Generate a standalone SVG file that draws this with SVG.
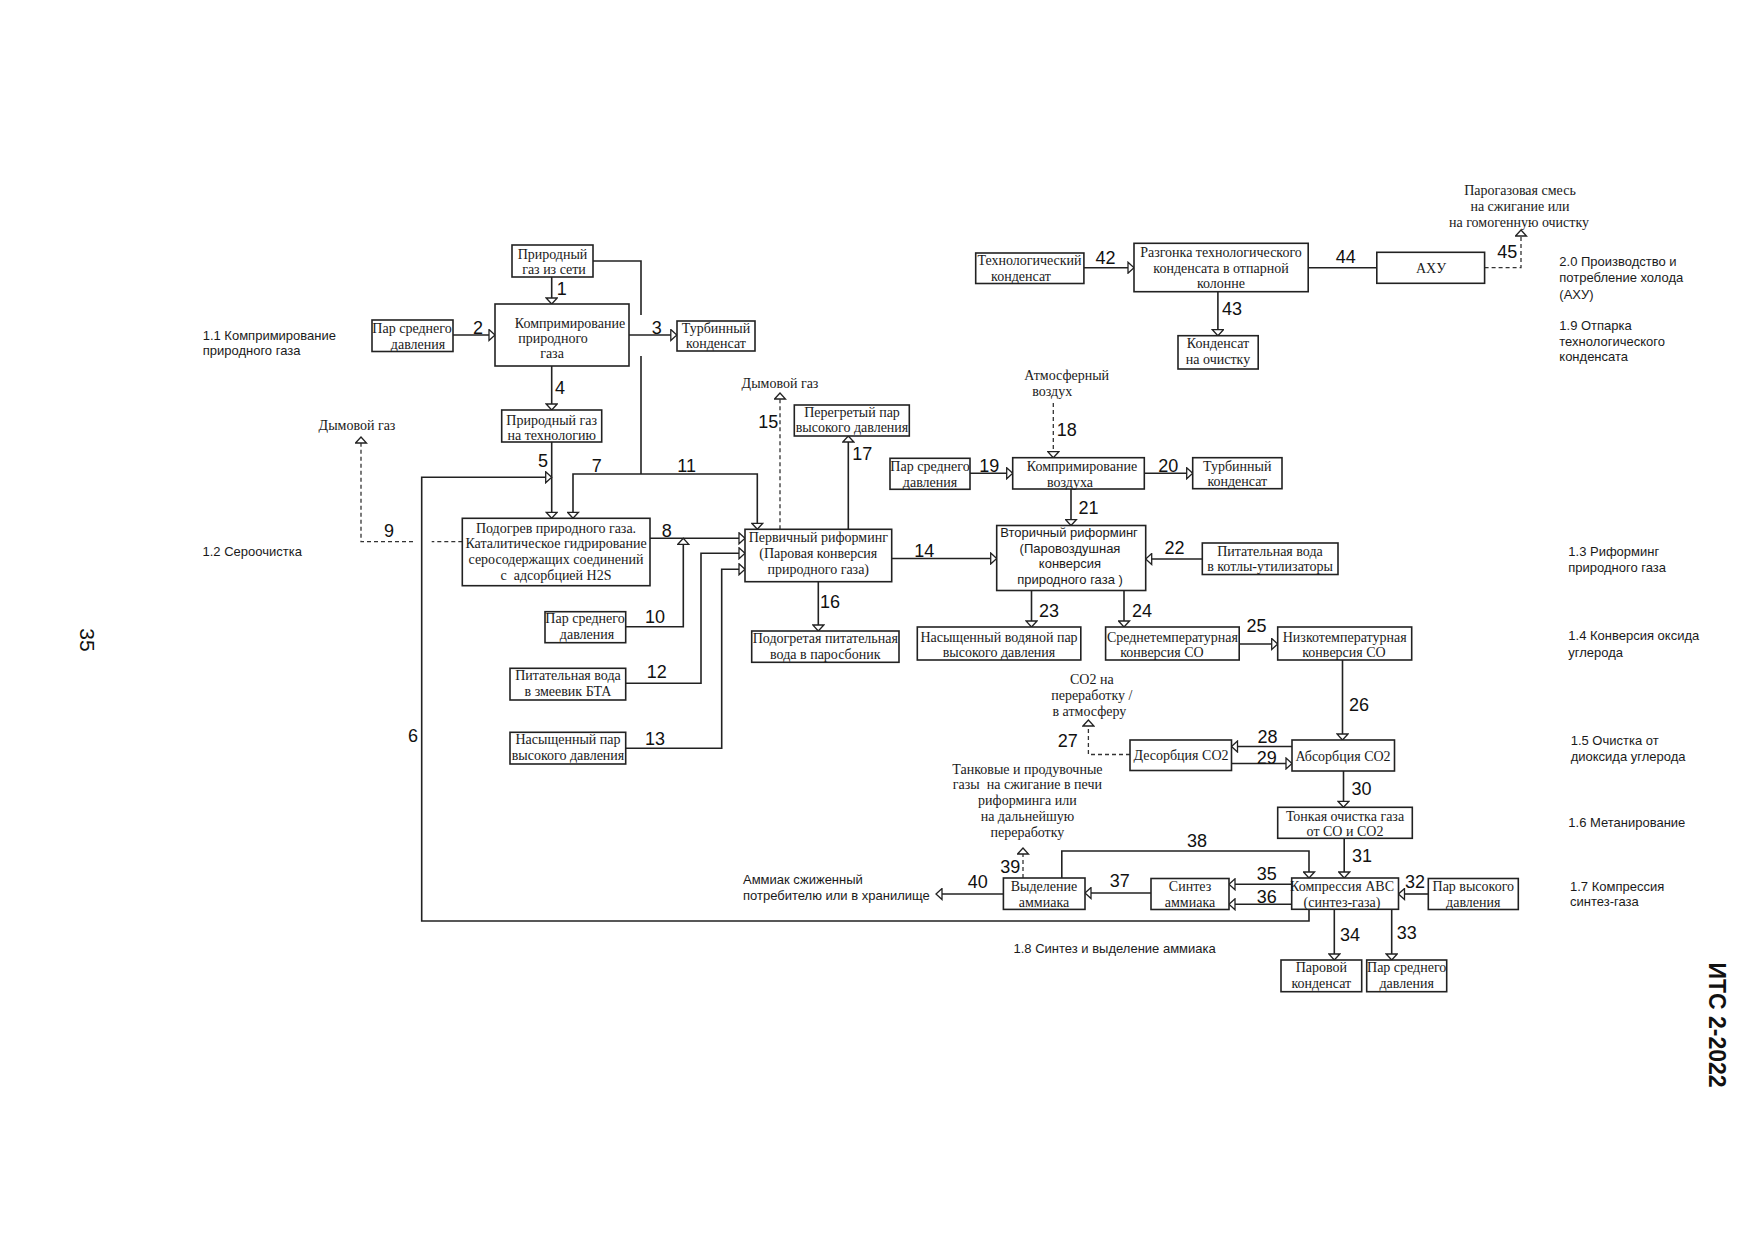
<svg xmlns="http://www.w3.org/2000/svg" width="1754" height="1240" viewBox="0 0 1754 1240">
<style>
.bx{fill:#fff;stroke:#222;stroke-width:1.6}
.t{font-family:"Liberation Serif",serif;font-size:14px;fill:#1a1a1a;text-anchor:middle}
.ts{font-family:"Liberation Sans",sans-serif;font-size:13px;fill:#1a1a1a;text-anchor:middle}
.s{font-family:"Liberation Sans",sans-serif;font-size:13px;fill:#1a1a1a}
.n{font-family:"Liberation Sans",sans-serif;font-size:18px;fill:#111;text-anchor:middle}
.c{fill:none;stroke:#222;stroke-width:1.6}
.d{fill:none;stroke:#333;stroke-width:1.3;stroke-dasharray:4 3}
.a{marker-end:url(#ah)}
</style>
<defs>
<marker id="ah" viewBox="-1 -1 8 13" refX="6" refY="5.5" markerWidth="8" markerHeight="13" markerUnits="userSpaceOnUse" orient="auto">
<path d="M0,0 L6,5.5 L0,11 Z" fill="#fff" stroke="#222" stroke-width="1.3"/>
</marker>
</defs>
<rect width="1754" height="1240" fill="#fff"/>

<g id="connectors">
<path class="c a" d="M551.7,277 V304"/>
<path class="c" d="M593,261 H641 V315 M641,356 V474"/>
<path class="c a" d="M641,474 H573 V518.3"/>
<path class="c a" d="M641,474 H757.3 V529.3"/>
<path class="c a" d="M452.7,335 H495"/>
<path class="c a" d="M629,335 H676.8"/>
<path class="c a" d="M551.7,366 V410"/>
<path class="c a" d="M551.7,442 V518.3"/>
<path class="c a" d="M1309,909.3 V921 H421.7 V477.3 H551.7"/>
<path class="c a" d="M650,538.3 H745"/>
<path class="d" d="M462.3,541.7 H431.7"/>
<path class="d a" d="M413,541.7 H361 V437"/>
<path class="c a" d="M625.7,626.7 H683.3 V538.3"/>
<path class="c a" d="M625.7,683.3 H701 V553.3 H745"/>
<path class="c a" d="M625.7,748.3 H721.7 V569.3 H745"/>
<path class="c a" d="M891.7,558.5 H996.7"/>
<path class="d a" d="M780,529.3 V393"/>
<path class="c a" d="M818.3,581.7 V631"/>
<path class="c a" d="M848.3,529.3 V436"/>
<path class="d a" d="M1053.3,403 V457.7"/>
<path class="c a" d="M970,473.3 H1012.7"/>
<path class="c a" d="M1144.3,473.3 H1192.7"/>
<path class="c a" d="M1071,489 V525.5"/>
<path class="c a" d="M1202.3,559 H1145.7"/>
<path class="c a" d="M1031.5,590.5 V627"/>
<path class="c a" d="M1124,590.5 V627"/>
<path class="c a" d="M1239.2,644 H1277.7"/>
<path class="c a" d="M1342.5,660 V740"/>
<path class="d a" d="M1130,754.5 H1088.4 V720"/>
<path class="c a" d="M1292,746.5 H1231.5"/>
<path class="c a" d="M1231.5,763.5 H1292"/>
<path class="c a" d="M1343.5,771 V807.3"/>
<path class="c a" d="M1344.2,838.3 V878"/>
<path class="c a" d="M1428.3,894 H1398.5"/>
<path class="c a" d="M1391.7,909.3 V960"/>
<path class="c a" d="M1334.3,909.3 V960"/>
<path class="c a" d="M1291.7,884.3 H1229"/>
<path class="c a" d="M1291.7,904.3 H1229"/>
<path class="c a" d="M1151,893 H1085"/>
<path class="c a" d="M1061.8,878 V851 H1309 V878"/>
<path class="d a" d="M1023,878 V848"/>
<path class="c a" d="M1003.4,894 H936"/>
<path class="c a" d="M1083.9,267.7 H1134"/>
<path class="c a" d="M1217.9,291.7 V335.7"/>
<path class="c" d="M1308.2,267.7 H1376.8"/>
<path class="d a" d="M1484.6,267.7 H1521 V230"/>
</g>

<g id="connector-labels">
<text class="n" x="561.7" y="294.5">1</text>
<text class="n" x="478" y="333.5">2</text>
<text class="n" x="656.7" y="333.5">3</text>
<text class="n" x="560" y="393.5">4</text>
<text class="n" x="543" y="466.5">5</text>
<text class="n" x="413" y="741.5">6</text>
<text class="n" x="596.7" y="471.5">7</text>
<text class="n" x="666.7" y="536.5">8</text>
<text class="n" x="389" y="536.5">9</text>
<text class="n" x="655" y="623">10</text>
<text class="n" x="686.7" y="471.5">11</text>
<text class="n" x="656.7" y="678">12</text>
<text class="n" x="655" y="744.5">13</text>
<text class="n" x="924.3" y="556.5">14</text>
<text class="n" x="768.3" y="428">15</text>
<text class="n" x="830" y="608">16</text>
<text class="n" x="862.3" y="459.5">17</text>
<text class="n" x="1066.7" y="436">18</text>
<text class="n" x="989.3" y="471.5">19</text>
<text class="n" x="1168.3" y="471.5">20</text>
<text class="n" x="1088.5" y="513.5">21</text>
<text class="n" x="1174.5" y="553.5">22</text>
<text class="n" x="1049" y="616.5">23</text>
<text class="n" x="1142" y="616.5">24</text>
<text class="n" x="1256.4" y="632">25</text>
<text class="n" x="1359" y="710.5">26</text>
<text class="n" x="1067.7" y="747">27</text>
<text class="n" x="1267.4" y="743">28</text>
<text class="n" x="1266.7" y="763.8">29</text>
<text class="n" x="1361.4" y="794.8">30</text>
<text class="n" x="1362" y="861.5">31</text>
<text class="n" x="1415" y="888">32</text>
<text class="n" x="1406.7" y="939">33</text>
<text class="n" x="1350" y="941">34</text>
<text class="n" x="1266.7" y="879.8">35</text>
<text class="n" x="1266.7" y="902.5">36</text>
<text class="n" x="1119.7" y="886.8">37</text>
<text class="n" x="1197" y="847">38</text>
<text class="n" x="1010.2" y="873">39</text>
<text class="n" x="977.7" y="888">40</text>
<text class="n" x="1105.4" y="263.8">42</text>
<text class="n" x="1232" y="314.8">43</text>
<text class="n" x="1345.7" y="262.5">44</text>
<text class="n" x="1507.3" y="258.2">45</text>
</g>

<g id="n-gas-net"><rect class="bx" x="512" y="245" width="81" height="32"/><text class="t" x="552.5" y="258.5">Природный</text><text class="t" x="554" y="274">газ из сети</text></g>
<g id="n-comp-gas"><rect class="bx" x="495" y="304" width="134" height="62"/><text class="t" x="570" y="327.5">Компримирование</text><text class="t" x="553" y="343">природного</text><text class="t" x="552" y="358">газа</text></g>
<g id="n-steam2"><rect class="bx" x="372" y="320" width="81" height="31.5"/><text class="t" x="412" y="333">Пар среднего</text><text class="t" x="418" y="349">давления</text></g>
<g id="n-turb3"><rect class="bx" x="677" y="321" width="78" height="30"/><text class="t" x="716" y="333">Турбинный</text><text class="t" x="716" y="348">конденсат</text></g>
<g id="n-gas-tech"><rect class="bx" x="501.7" y="410" width="100" height="32"/><text class="t" x="551.7" y="424.5">Природный газ</text><text class="t" x="551.7" y="440">на технологию</text></g>
<g id="n-preheat"><rect class="bx" x="462.3" y="518.3" width="187.7" height="67.4"/><text class="t" x="556" y="533">Подогрев природного газа.</text><text class="t" x="556" y="548">Каталитическое гидрирование</text><text class="t" x="556" y="564">серосодержащих соединений</text><text class="t" x="556" y="580" xml:space="preserve">с  адсорбцией H2S</text></g>
<g id="n-primary"><rect class="bx" x="745" y="529.3" width="146.7" height="52.4"/><text class="t" x="818.3" y="542.3">Первичный риформинг</text><text class="t" x="818.3" y="558.3">(Паровая конверсия</text><text class="t" x="818.3" y="574.3">природного газа)</text></g>
<g id="n-steam10"><rect class="bx" x="545" y="611.7" width="80.7" height="31"/><text class="t" x="585" y="622.5">Пар среднего</text><text class="t" x="587" y="638.5">давления</text></g>
<g id="n-feed12"><rect class="bx" x="510" y="668.3" width="115.7" height="31.7"/><text class="t" x="568" y="680">Питательная вода</text><text class="t" x="568" y="696">в змеевик БТА</text></g>
<g id="n-sat13"><rect class="bx" x="510" y="732.3" width="115.7" height="31.7"/><text class="t" x="568" y="744.3">Насыщенный пар</text><text class="t" x="568" y="760">высокого давления</text></g>
<g id="n-heated16"><rect class="bx" x="751.7" y="631" width="147.3" height="31.3"/><text class="t" x="825.3" y="643.3">Подогретая питательная</text><text class="t" x="825.3" y="659">вода в паросбоник</text></g>
<g id="n-superheat17"><rect class="bx" x="794.3" y="405" width="115" height="31"/><text class="t" x="852" y="416.7">Перегретый пар</text><text class="t" x="852" y="431.7">высокого давления</text></g>
<g id="n-steam19"><rect class="bx" x="890" y="458.3" width="80" height="31"/><text class="t" x="930" y="471">Пар среднего</text><text class="t" x="930" y="486.5">давления</text></g>
<g id="n-compair"><rect class="bx" x="1012.7" y="457.7" width="131.6" height="31.3"/><text class="t" x="1082" y="471">Компримирование</text><text class="t" x="1070" y="486.5">воздуха</text></g>
<g id="n-turb20"><rect class="bx" x="1192.7" y="457.7" width="89.3" height="31"/><text class="t" x="1237.3" y="471">Турбинный</text><text class="t" x="1237.3" y="486">конденсат</text></g>
<g id="n-secondary"><rect class="bx" x="996.7" y="525.5" width="149" height="65"/><text class="ts" x="1069" y="536.5">Вторичный риформинг</text><text class="ts" x="1070" y="552.5">(Паровоздушная</text><text class="ts" x="1070" y="568">конверсия</text><text class="ts" x="1070" y="584">природного газа )</text></g>
<g id="n-feed22"><rect class="bx" x="1202.3" y="543" width="135.7" height="31.5"/><text class="t" x="1270" y="555.5">Питательная вода</text><text class="t" x="1270" y="570.5">в котлы-утилизаторы</text></g>
<g id="n-satw23"><rect class="bx" x="917.3" y="627" width="163.5" height="33"/><text class="t" x="999" y="641.7">Насыщенный водяной пар</text><text class="t" x="999" y="656.7">высокого давления</text></g>
<g id="n-mid24"><rect class="bx" x="1105.6" y="627" width="133.6" height="33"/><text class="t" x="1172.4" y="641.7">Среднетемпературная</text><text class="t" x="1162" y="656.7">конверсия СО</text></g>
<g id="n-low25"><rect class="bx" x="1277.7" y="627" width="134" height="33"/><text class="t" x="1344.7" y="641.7">Низкотемпературная</text><text class="t" x="1344" y="656.7">конверсия СО</text></g>
<g id="n-desorb"><rect class="bx" x="1130" y="740" width="101.5" height="30.5"/><text class="t" x="1181" y="760">Десорбция СО2</text></g>
<g id="n-absorb"><rect class="bx" x="1292" y="740" width="102.5" height="31"/><text class="t" x="1343" y="760.5">Абсорбция СО2</text></g>
<g id="n-fine"><rect class="bx" x="1277.7" y="807.3" width="134.6" height="31"/><text class="t" x="1345" y="821">Тонкая очистка газа</text><text class="t" x="1345" y="835.5">от СО и СО2</text></g>
<g id="n-abc"><rect class="bx" x="1291.7" y="878" width="106.8" height="31.3"/><text class="t" x="1342" y="891">Компрессия АВС</text><text class="t" x="1342" y="906.5">(синтез-газа)</text></g>
<g id="n-hp32"><rect class="bx" x="1428.3" y="878.5" width="90" height="31"/><text class="t" x="1473.3" y="891">Пар высокого</text><text class="t" x="1473.3" y="906.5">давления</text></g>
<g id="n-synth"><rect class="bx" x="1151" y="878.5" width="78" height="31"/><text class="t" x="1190" y="891">Синтез</text><text class="t" x="1190" y="906.5">аммиака</text></g>
<g id="n-sep"><rect class="bx" x="1003.4" y="878" width="81.6" height="31.4"/><text class="t" x="1044" y="891">Выделение</text><text class="t" x="1044" y="906.5">аммиака</text></g>
<g id="n-cond34"><rect class="bx" x="1281" y="960" width="80.7" height="31.7"/><text class="t" x="1321.3" y="971.7">Паровой</text><text class="t" x="1321.3" y="988">конденсат</text></g>
<g id="n-mp33"><rect class="bx" x="1366.7" y="960" width="80" height="31.7"/><text class="t" x="1406.7" y="971.7">Пар среднего</text><text class="t" x="1406.7" y="988">давления</text></g>
<g id="n-techcond"><rect class="bx" x="975.7" y="253" width="108.2" height="30.5"/><text class="t" x="1029.5" y="265">Технологический</text><text class="t" x="1021" y="280.5">конденсат</text></g>
<g id="n-strip"><rect class="bx" x="1134" y="243.3" width="174.2" height="48.4"/><text class="t" x="1221" y="256.7">Разгонка технологического</text><text class="t" x="1221" y="272.7">конденсата в отпарной</text><text class="t" x="1221" y="287.7">колонне</text></g>
<g id="n-akhu"><rect class="bx" x="1376.8" y="252.3" width="107.8" height="31"/><text class="t" x="1431" y="273">АХУ</text></g>
<g id="n-cond43"><rect class="bx" x="1178" y="335.7" width="80.2" height="33.3"/><text class="t" x="1218" y="348">Конденсат</text><text class="t" x="1218" y="364">на очистку</text></g>

<g id="free-texts">
<text class="t" x="357" y="430">Дымовой газ</text>
<text class="t" x="780" y="388.3">Дымовой газ</text>
<text class="t" x="1066.7" y="380">Атмосферный</text>
<text class="t" x="1052.3" y="395.7">воздух</text>
<text class="t" x="1091.8" y="684">СО2 на</text>
<text class="t" x="1091.8" y="700">переработку /</text>
<text class="t" x="1089.4" y="715.7">в атмосферу</text>
<text class="t" x="1027.4" y="774.3">Танковые и продувочные</text>
<text class="t" x="1027.4" y="789.3" xml:space="preserve">газы  на сжигание в печи</text>
<text class="t" x="1027.4" y="805">риформинга или</text>
<text class="t" x="1027.4" y="821">на дальнейшую</text>
<text class="t" x="1027.4" y="837.3">переработку</text>
<text class="t" x="1520" y="195">Парогазовая смесь</text>
<text class="t" x="1520" y="210.7">на сжигание или</text>
<text class="t" x="1519" y="226.7">на гомогенную очистку</text>
<text class="s" x="202.7" y="339.7">1.1 Компримирование</text>
<text class="s" x="202.7" y="355.4">природного газа</text>
<text class="s" x="202.5" y="556.2">1.2 Сероочистка</text>
<text class="s" x="743" y="883.7">Аммиак сжиженный</text>
<text class="s" x="743" y="899.7">потребителю или в хранилище</text>
<text class="s" x="1013.5" y="953.3">1.8 Синтез и выделение аммиака</text>
<text class="s" x="1559.3" y="266.4">2.0 Производство и</text>
<text class="s" x="1559.3" y="282.4">потребление холода</text>
<text class="s" x="1559.3" y="298.7">(АХУ)</text>
<text class="s" x="1559.3" y="330.4">1.9 Отпарка</text>
<text class="s" x="1559.3" y="346.4">технологического</text>
<text class="s" x="1559.3" y="361.4">конденсата</text>
<text class="s" x="1568.3" y="555.7">1.3 Риформинг</text>
<text class="s" x="1568.3" y="572">природного газа</text>
<text class="s" x="1568.3" y="640.4">1.4 Конверсия оксида</text>
<text class="s" x="1568.3" y="657">углерода</text>
<text class="s" x="1570.7" y="745.4">1.5 Очистка от</text>
<text class="s" x="1570.7" y="760.7">диоксида углерода</text>
<text class="s" x="1568.3" y="827.4">1.6 Метанирование</text>
<text class="s" x="1570" y="890.7">1.7 Компрессия</text>
<text class="s" x="1570" y="906.4">синтез-газа</text>
<text transform="translate(80,640) rotate(90)" font-family="Liberation Sans, sans-serif" font-size="21" fill="#111" text-anchor="middle">35</text>
<text transform="translate(1709,1025) rotate(90)" font-family="Liberation Sans, sans-serif" font-size="23" font-weight="bold" fill="#111" text-anchor="middle">ИТС 2-2022</text>
</g>
</svg>
